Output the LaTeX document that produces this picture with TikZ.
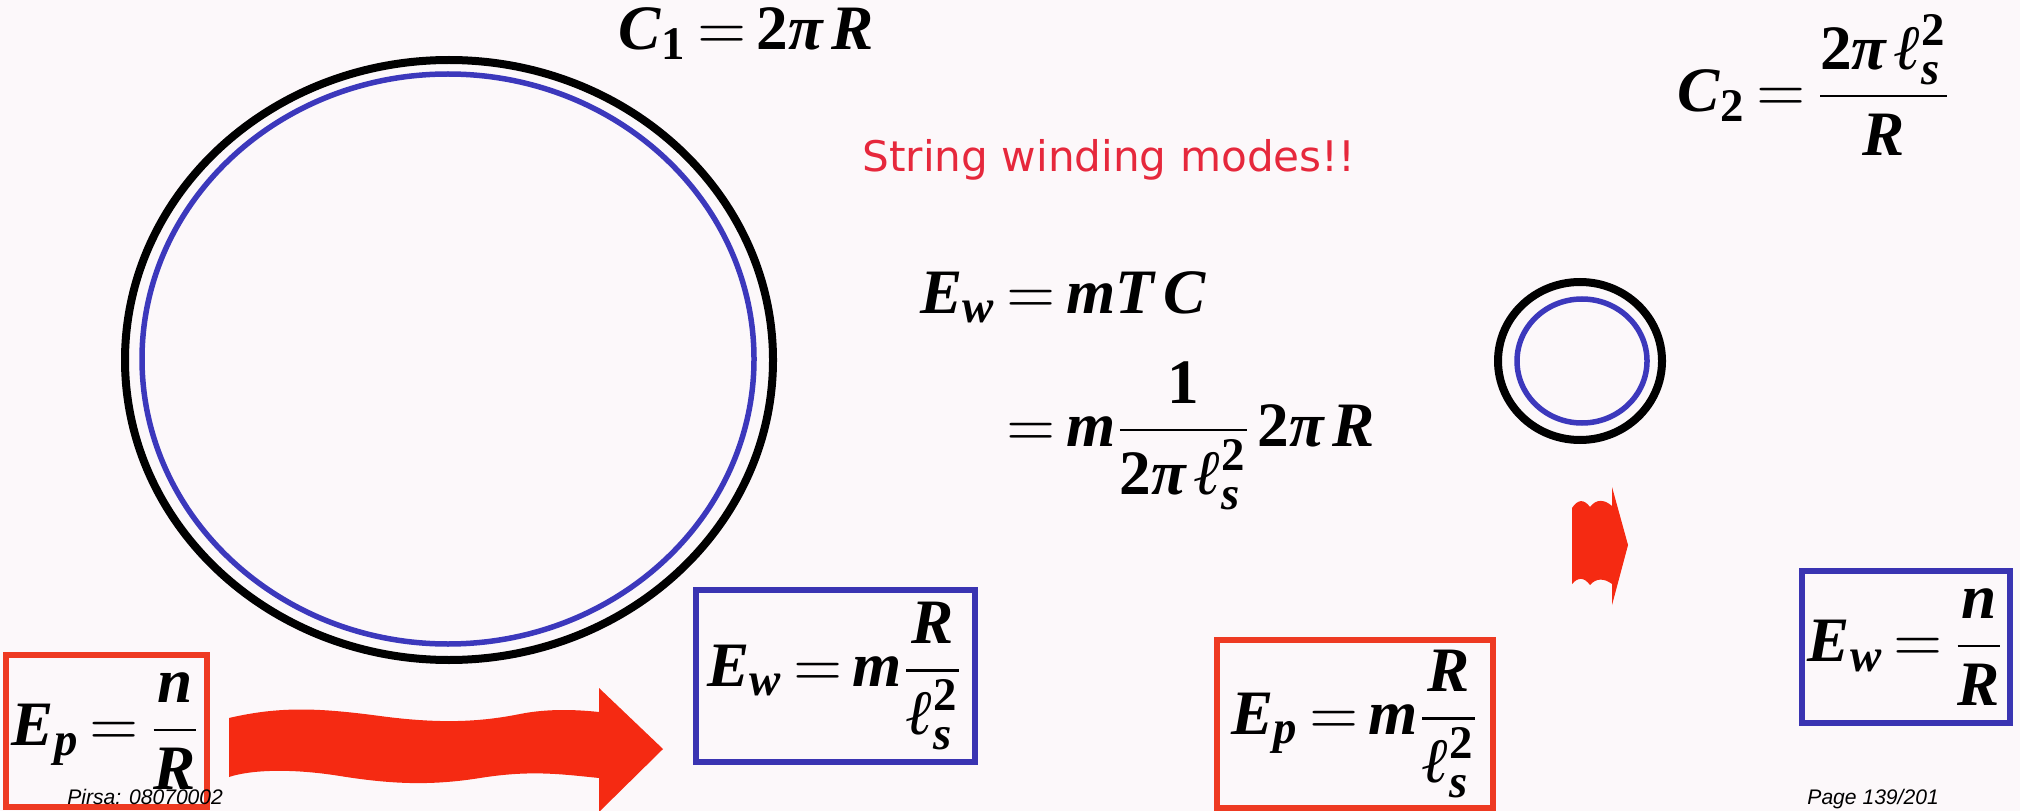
\documentclass[tikz,border=0pt]{standalone}
\usepackage{amsmath}
\usepackage{mathptmx}
\usepackage[no-math]{fontspec}
\setmainfont{Liberation Serif}
\setsansfont{DejaVu Sans}
\newfontfamily\footfont{Liberation Sans}
\usetikzlibrary{positioning}
\definecolor{SlideBg}{HTML}{FCF8FA}
\definecolor{SlideRed}{HTML}{F52A12}
\definecolor{BoxRed}{HTML}{EE3A22}
\definecolor{TitleRed}{HTML}{E6283C}
\definecolor{BoxBlue}{HTML}{3A34B2}
\definecolor{RingBlue}{HTML}{3C38BC}
\newcommand{\eqsize}{\fontsize{18}{22}\selectfont\thickmuskip=3mu\medmuskip=1mu}
\newcommand{\tv}[1]{\textbf{\textit{#1}}}
\newcommand{\tn}[1]{\textbf{#1}}

\begin{document}
\begin{tikzpicture}[
    x=0.1mm,y=-0.1mm,
    eq/.style={inner sep=0pt,font=\eqsize},
    redbox/.style={draw=BoxRed,line width=0.6mm,inner sep=0pt,font=\eqsize},
    bluebox/.style={draw=BoxBlue,line width=0.6mm,inner sep=0pt,font=\eqsize},
    ringout/.style={draw=black,line width=0.8mm},
    ringin/.style={draw=RingBlue,line width=0.55mm},
    bigarrow/.style={fill=SlideRed},
    foot/.style={anchor=base west,font=\footfont\itshape\fontsize{6}{7}\selectfont}
  ]
    \fill[SlideBg] (0,0) rectangle (2020,811);
    \useasboundingbox (0,0) rectangle (2020,811);
    % large circle, circumference C1
    \draw[ringout] (449,360) ellipse [x radius=32.4mm,y radius=30mm];
    \draw[ringin] (448,359) ellipse [x radius=30.6mm,y radius=28.5mm];
    % small circle, circumference C2
    \draw[ringout] (1580,361) ellipse [x radius=8.2mm,y radius=7.9mm];
    \draw[ringin] (1582,361) ellipse [x radius=6.5mm,y radius=6.2mm];
    \node[eq,anchor=base west] (c1) at (618,50) {$\tv{C}_{\tn{1}} = \tn{2}\tv{π}\,\tv{R}$};
    \node[eq,anchor=base west] (c2) at (1677,112) {$\tv{C}_{\tn{2}} = \dfrac{\tn{2}\tv{π}\,\tv{ℓ}_{\tv{s}}^{\tn{2}}}{\tv{R}}$};
    \node[anchor=base,text=TitleRed,font=\sffamily\fontsize{12}{14}\selectfont] (title) at (1109,172) {String winding modes!!};
    \node[eq,anchor=base west] (ew) at (920,313) {$\tv{E}_{\tv{w}} = \tv{m}\tv{T}\,\tv{C}$};
    \node[eq,anchor=base west] (ewb) at (1006,446) {$= \tv{m}\dfrac{\tn{1}}{\tn{2}\tv{π}\,\tv{ℓ}_{\tv{s}}^{\tn{2}}}\,\tn{2}\tv{π}\,\tv{R}$};
    % boxed energies
    \node[redbox,minimum width=20.1mm,minimum height=15.2mm] (ep1) at (106,731) {$\tv{E}_{\tv{p}} = \dfrac{\tv{n}}{\tv{R}}$};
    \node[bluebox,minimum width=27.9mm,minimum height=17.2mm] (ew1) at (835,676) {$\tv{E}_{\tv{w}} = \tv{m}\dfrac{\tv{R}}{\tv{ℓ}_{\tv{s}}^{\tn{2}}}$};
    \node[redbox,minimum width=27.6mm,minimum height=16.8mm] (ep2) at (1355,724) {$\tv{E}_{\tv{p}} = \tv{m}\dfrac{\tv{R}}{\tv{ℓ}_{\tv{s}}^{\tn{2}}}$};
    \node[bluebox,minimum width=20.8mm,minimum height=15.2mm] (ew2) at (1906,647) {$\tv{E}_{\tv{w}} = \dfrac{\tv{n}}{\tv{R}}$};
    % wavy red arrows
    \fill[bigarrow] (229,718) .. controls (280,706) and (320,708) .. (380,716)
      .. controls (440,724) and (480,722) .. (520,714)
      .. controls (550,708) and (580,710) .. (599,712)
      -- (599,688) -- (663,749) -- (599,812) -- (599,778)
      .. controls (560,774) and (530,770) .. (480,778)
      .. controls (430,786) and (390,784) .. (340,776)
      .. controls (290,768) and (250,770) .. (229,777) -- cycle;
    \fill[bigarrow] (1572,508) .. controls (1578,499) and (1584,499) .. (1590,507)
      .. controls (1596,499) and (1604,499) .. (1612,506)
      -- (1612,487) -- (1628,545) -- (1612,605) -- (1612,584)
      .. controls (1604,578) and (1596,578) .. (1590,585)
      .. controls (1584,577) and (1578,577) .. (1572,584) -- cycle;
    % footer
    \node[foot] (pirsa) at (55,804) {Pirsa: 08070002};
    \node[foot] (page) at (1795,804) {Page 139/201};
\end{tikzpicture}
\end{document}
